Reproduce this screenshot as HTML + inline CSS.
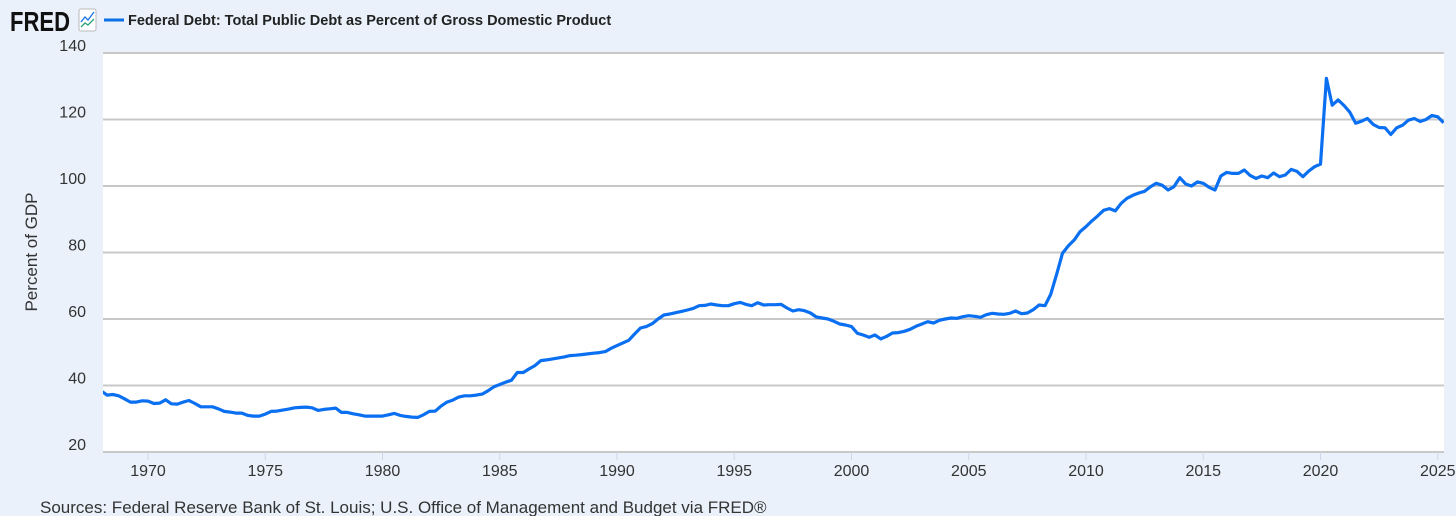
<!DOCTYPE html>
<html><head><meta charset="utf-8"><style>
body{margin:0;background:#eaf1fa;width:1456px;height:516px;overflow:hidden;font-family:"Liberation Sans",sans-serif}
</style></head><body>
<svg id="chart" width="1456" height="516" xmlns="http://www.w3.org/2000/svg" style="position:absolute;left:0;top:0">
<rect x="0" y="0" width="1456" height="516" fill="#eaf1fa"/>
<g>
<text x="10" y="31" font-size="28" font-weight="bold" fill="#111" textLength="60" lengthAdjust="spacingAndGlyphs" font-family="Liberation Sans, sans-serif">FRED</text>
<rect x="79" y="9" width="17" height="22" fill="#fff" stroke="#bbb" rx="2"/>
<polyline points="81,22 85,17 88,20 94,12" fill="none" stroke="#1a73e8" stroke-width="1.3"/>
<polyline points="81,27 85,23 88,25 94,19" fill="none" stroke="#2aa37a" stroke-width="1.3"/>
</g>
<g>
<line x1="104" y1="20" x2="124" y2="20" stroke="#0b6fe8" stroke-width="3"/>
<text x="128" y="25" font-size="14.5" font-weight="bold" fill="#222">Federal Debt: Total Public Debt as Percent of Gross Domestic Product</text>
</g>
<rect x="103" y="53" width="1341" height="399" fill="#fff"/>
<g id="grid"></g><g id="yticks"></g><g id="xticks"></g>
<clipPath id="clip"><rect x="103" y="45" width="1341" height="410"/></clipPath>
<path id="line" fill="none" stroke="#0a6ff0" stroke-width="3.2" stroke-linejoin="round" clip-path="url(#clip)"/>
<text x="0" y="0" transform="translate(37,252) rotate(-90)" text-anchor="middle" font-size="17" fill="#333">Percent of GDP</text>
<text x="40" y="513" font-size="17" fill="#333">Sources: Federal Reserve Bank of St. Louis; U.S. Office of Management and Budget via FRED®</text>
</svg>
<script>
const startYear = 1968.0;
const yTicks = [20,40,60,80,100,120,140];
const xTickYears = [1970,1975,1980,1985,1990,1995,2000,2005,2010,2015,2020,2025];
const debtValues = [
38.4,37.1,37.3,36.9,36.0,35.0,35.0,35.4,35.3,34.6,34.7,35.7,34.5,34.4,35.0,35.5,
34.6,33.6,33.6,33.6,33.0,32.2,32.0,31.7,31.7,31.0,30.8,30.8,31.4,32.2,32.3,32.6,
32.9,33.3,33.4,33.5,33.3,32.5,32.8,33.0,33.2,31.9,31.9,31.5,31.2,30.8,30.8,30.8,
30.8,31.2,31.6,31.0,30.7,30.5,30.4,31.2,32.2,32.3,33.8,35.0,35.6,36.5,36.9,36.9,
37.1,37.4,38.4,39.6,40.3,41.0,41.6,43.9,43.9,45.0,46.0,47.5,47.7,48.0,48.3,48.6,
49.0,49.1,49.3,49.5,49.7,49.9,50.2,51.2,52.0,52.8,53.6,55.5,57.3,57.7,58.6,60.0,
61.2,61.5,61.9,62.3,62.7,63.2,64.0,64.1,64.5,64.2,64.0,64.0,64.6,65.0,64.4,64.0,
64.9,64.2,64.3,64.3,64.4,63.3,62.4,62.8,62.5,61.8,60.6,60.3,60.0,59.3,58.5,58.2,
57.7,55.7,55.2,54.5,55.2,54.0,54.8,55.8,55.9,56.3,56.9,57.8,58.5,59.2,58.8,59.6,
60.0,60.3,60.2,60.7,61.0,60.8,60.5,61.3,61.7,61.5,61.4,61.7,62.4,61.6,61.8,62.8,
64.2,64.0,67.5,73.5,79.8,82.0,83.8,86.3,87.8,89.5,91.0,92.7,93.2,92.5,94.8,96.3,
97.2,97.9,98.4,99.8,100.8,100.2,98.8,99.8,102.5,100.6,100.0,101.2,100.8,99.6,98.8,103.0,
104.1,103.8,103.8,104.8,103.2,102.3,103.0,102.5,103.9,102.8,103.3,105.0,104.4,102.8,104.5,105.8,
106.6,132.4,124.3,125.9,124.2,122.2,118.9,119.5,120.3,118.5,117.6,117.5,115.5,117.5,118.3,119.8,
120.3,119.4,120.0,121.2,120.8,119.0
];
const NS='http://www.w3.org/2000/svg';
const xs = yr => 148 + (yr-1970)*23.45;
const ys = v => 452 - (v-20)*3.325;
const grid=document.getElementById('grid'), yt=document.getElementById('yticks'), xt=document.getElementById('xticks');
yTicks.forEach(v=>{
  const l=document.createElementNS(NS,'line');
  l.setAttribute('x1',103);l.setAttribute('x2',1444);l.setAttribute('y1',ys(v));l.setAttribute('y2',ys(v));
  l.setAttribute('stroke','#c8c8c8');l.setAttribute('stroke-width','2');
  
  
  grid.appendChild(l);
  const t=document.createElementNS(NS,'text');
  t.setAttribute('x',86);t.setAttribute('y',ys(v)-2);t.setAttribute('text-anchor','end');
  t.setAttribute('font-size','16');t.setAttribute('fill','#333');t.textContent=v;
  
  
  yt.appendChild(t);
});
xTickYears.forEach(y=>{
  const l=document.createElementNS(NS,'line');
  l.setAttribute('x1',xs(y));l.setAttribute('x2',xs(y));l.setAttribute('y1',452);l.setAttribute('y2',460);
  l.setAttribute('stroke','#ccd6eb');l.setAttribute('stroke-width','1');
  
  
  xt.appendChild(l);
  const t=document.createElementNS(NS,'text');
  t.setAttribute('x',xs(y));t.setAttribute('y',476);t.setAttribute('text-anchor','middle');
  t.setAttribute('font-size','16');t.setAttribute('fill','#333');t.textContent=y;
  
  
  xt.appendChild(t);
});
document.getElementById('line').setAttribute('d', debtValues.map((v,i)=>(i?'L':'M')+xs(startYear+i*0.25).toFixed(1)+','+ys(v).toFixed(1)).join(''));
</script>
</body></html>
